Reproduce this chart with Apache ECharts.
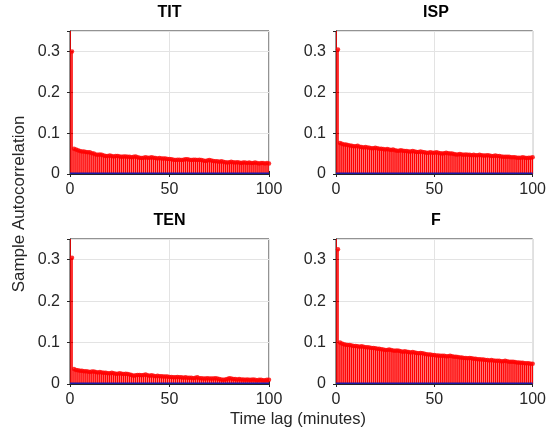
<!DOCTYPE html>
<html>
<head>
<meta charset="utf-8">
<script src="https://cdn.jsdelivr.net/npm/echarts@6/dist/echarts.min.js"></script>
<style>html,body{margin:0;padding:0;background:#fff}#c{width:549px;height:432px}</style>
</head>
<body>
<div id="c"></div>
<script>
// Panel titles
const panelTitles = ['TIT', 'ISP', 'TEN', 'F'];
// x tick labels
const xTicks = [0, 50, 100];
// y tick labels
const yTicks = [0, 0.1, 0.2, 0.3];
// Sample autocorrelation, lags 0..100
const acfTIT = [1,0.300,0.062,0.060,0.058,0.056,0.055,0.055,0.054,0.053,0.053,0.051,0.050,0.048,0.047,0.048,0.047,0.045,0.044,0.044,
0.045,0.044,0.043,0.044,0.044,0.043,0.042,0.043,0.043,0.042,0.042,0.041,0.042,0.043,0.041,0.040,0.039,0.040,0.041,0.040,
0.040,0.041,0.040,0.039,0.038,0.039,0.038,0.038,0.038,0.037,0.037,0.036,0.035,0.034,0.035,0.035,0.034,0.035,0.036,0.036,
0.035,0.034,0.035,0.035,0.034,0.035,0.034,0.033,0.032,0.033,0.034,0.033,0.032,0.031,0.031,0.030,0.031,0.030,0.029,0.028,
0.029,0.030,0.029,0.028,0.029,0.028,0.027,0.028,0.028,0.027,0.028,0.027,0.027,0.028,0.027,0.026,0.027,0.027,0.026,0.027,0.026];
const acfISP = [1,0.305,0.076,0.074,0.072,0.072,0.071,0.070,0.069,0.068,0.068,0.069,0.067,0.066,0.065,0.066,0.065,0.064,0.063,0.063,
0.064,0.063,0.062,0.062,0.061,0.060,0.061,0.060,0.059,0.060,0.058,0.057,0.057,0.058,0.057,0.056,0.056,0.055,0.055,0.056,
0.055,0.054,0.054,0.055,0.054,0.053,0.052,0.052,0.053,0.052,0.052,0.053,0.052,0.051,0.050,0.051,0.052,0.051,0.050,0.050,
0.049,0.048,0.048,0.049,0.048,0.047,0.048,0.047,0.047,0.046,0.047,0.046,0.046,0.047,0.046,0.045,0.045,0.046,0.045,0.044,
0.044,0.045,0.044,0.044,0.043,0.042,0.042,0.042,0.042,0.041,0.041,0.041,0.040,0.040,0.040,0.041,0.040,0.039,0.040,0.040,0.041];
const acfTEN = [1,0.305,0.036,0.034,0.033,0.032,0.032,0.031,0.031,0.030,0.029,0.030,0.030,0.029,0.028,0.029,0.028,0.027,0.027,0.026,
0.026,0.027,0.026,0.025,0.025,0.026,0.025,0.024,0.025,0.024,0.023,0.022,0.020,0.021,0.022,0.022,0.021,0.022,0.023,0.021,
0.020,0.021,0.020,0.019,0.020,0.019,0.019,0.018,0.018,0.018,0.017,0.017,0.016,0.016,0.017,0.016,0.016,0.015,0.016,0.015,
0.015,0.015,0.014,0.015,0.016,0.014,0.014,0.013,0.013,0.014,0.013,0.013,0.013,0.014,0.013,0.012,0.011,0.010,0.011,0.012,
0.014,0.013,0.012,0.012,0.011,0.012,0.011,0.011,0.010,0.011,0.010,0.010,0.011,0.010,0.009,0.010,0.010,0.009,0.009,0.010,0.010];
const acfF = [1,0.325,0.100,0.098,0.096,0.095,0.094,0.094,0.093,0.092,0.092,0.091,0.090,0.091,0.090,0.089,0.089,0.088,0.087,0.087,
0.086,0.085,0.085,0.084,0.083,0.082,0.082,0.083,0.082,0.081,0.080,0.081,0.080,0.079,0.078,0.079,0.078,0.077,0.076,0.077,
0.076,0.075,0.074,0.075,0.074,0.073,0.072,0.071,0.071,0.070,0.070,0.069,0.069,0.068,0.068,0.068,0.067,0.067,0.068,0.067,
0.066,0.066,0.065,0.064,0.064,0.063,0.063,0.062,0.063,0.062,0.061,0.061,0.060,0.060,0.059,0.059,0.058,0.058,0.057,0.058,
0.057,0.056,0.056,0.056,0.055,0.055,0.056,0.055,0.054,0.054,0.054,0.053,0.052,0.052,0.051,0.051,0.050,0.050,0.050,0.049,0.049];
// Confidence bound (near zero)
const confBound = 0.002;
const yMax = 0.35;

const panels = [acfTIT, acfISP, acfTEN, acfF];
const gridPos = [
  {left: 70, top: 31, width: 199, height: 143},
  {left: 336, top: 31, width: 200, height: 143},
  {left: 70, top: 239, width: 199, height: 145},
  {left: 336, top: 239, width: 200, height: 145}
];
const FONT = 'Liberation Sans, Arial, Helvetica, sans-serif';
const TXT = '#262626';

const grids = [], xAxes = [], yAxes = [], series = [], graphics = [];
panels.forEach((vals, i) => {
  const g = gridPos[i];
  grids.push(Object.assign({show: true, borderColor: TXT, borderWidth: 1, backgroundColor: '#fff', containLabel: false}, g));
  xAxes.push({
    type: 'value', gridIndex: i, min: xTicks[0], max: xTicks[xTicks.length - 1], interval: xTicks[1] - xTicks[0],
    axisLine: {show: true, onZero: false, lineStyle: {color: TXT, width: 1}},
    axisTick: {show: true, inside: true, length: 3, lineStyle: {color: TXT}},
    splitLine: {show: true, lineStyle: {color: '#e3e3e3', width: 1}},
    axisLabel: {fontSize: 16, color: TXT, fontFamily: FONT, margin: 8}
  });
  yAxes.push({
    type: 'value', gridIndex: i, min: 0, max: yMax, interval: yTicks[1] - yTicks[0],
    axisLine: {show: true, lineStyle: {color: TXT, width: 1}},
    axisTick: {show: true, inside: true, length: 3, lineStyle: {color: TXT}},
    splitLine: {show: true, lineStyle: {color: '#e3e3e3', width: 1}},
    axisLabel: {fontSize: 16, color: TXT, fontFamily: FONT, margin: 10, showMaxLabel: false,
      formatter: v => (yTicks.some(t => Math.abs(t - v) < 1e-9) ? String(+v.toFixed(2)) : '')}
  });
  const data = vals.map((v, k) => [k, v]);
  series.push({
    type: 'custom', xAxisIndex: i, yAxisIndex: i, data: data, clip: true, animation: false, silent: true,
    renderItem: function (params, api) {
      const x = api.value(0), y = api.value(1);
      const p0 = api.coord([x, 0]);
      const p1 = api.coord([x, Math.min(y, yMax)]);
      return {type: 'line', shape: {x1: p0[0], y1: p0[1], x2: p1[0], y2: p1[1]},
        style: {stroke: '#ff0000', lineWidth: 1.6}};
    }
  });
  series.push({
    type: 'scatter', xAxisIndex: i, yAxisIndex: i, data: data, symbol: 'circle', symbolSize: 4.5, clip: true,
    itemStyle: {color: '#ff0000'}, animation: false, silent: true
  });
  series.push({
    type: 'line', xAxisIndex: i, yAxisIndex: i, data: [[0, confBound], [100, confBound]], symbol: 'none',
    lineStyle: {color: '#1a1aa8', width: 1.5}, animation: false, silent: true, z: 3
  });
  graphics.push({
    type: 'text', x: g.left + g.width / 2, y: g.top - 18,
    style: {text: panelTitles[i], font: 'bold 16px ' + FONT, fill: '#000', textAlign: 'center', textVerticalAlign: 'middle'}
  });
});
// mirror axes (box ticks on top/right)
panels.forEach((vals, i) => {
  xAxes.push({
    type: 'value', gridIndex: i, position: 'top', min: xTicks[0], max: xTicks[xTicks.length - 1], interval: xTicks[1] - xTicks[0],
    axisLine: {show: false}, axisTick: {show: true, inside: true, length: 3, lineStyle: {color: TXT}},
    splitLine: {show: false}, axisLabel: {show: false}
  });
  yAxes.push({
    type: 'value', gridIndex: i, position: 'right', min: 0, max: yMax, interval: yTicks[1] - yTicks[0],
    axisLine: {show: false}, axisTick: {show: true, inside: true, length: 3, lineStyle: {color: TXT}},
    splitLine: {show: false}, axisLabel: {show: false}
  });
});
graphics.push({
  type: 'text', x: 19, y: 204, rotation: Math.PI / 2,
  style: {text: 'Sample Autocorrelation', font: '17px ' + FONT, fill: TXT, textAlign: 'center', textVerticalAlign: 'middle'}
});
graphics.push({
  type: 'text', x: 298, y: 419,
  style: {text: 'Time lag (minutes)', font: '16.5px ' + FONT, fill: TXT, textAlign: 'center', textVerticalAlign: 'middle'}
});

const chart = echarts.init(document.getElementById('c'), null, {renderer: 'canvas'});
chart.setOption({
  animation: false,
  backgroundColor: '#fff',
  grid: grids, xAxis: xAxes, yAxis: yAxes, series: series, graphic: graphics
});
</script>
</body>
</html>
